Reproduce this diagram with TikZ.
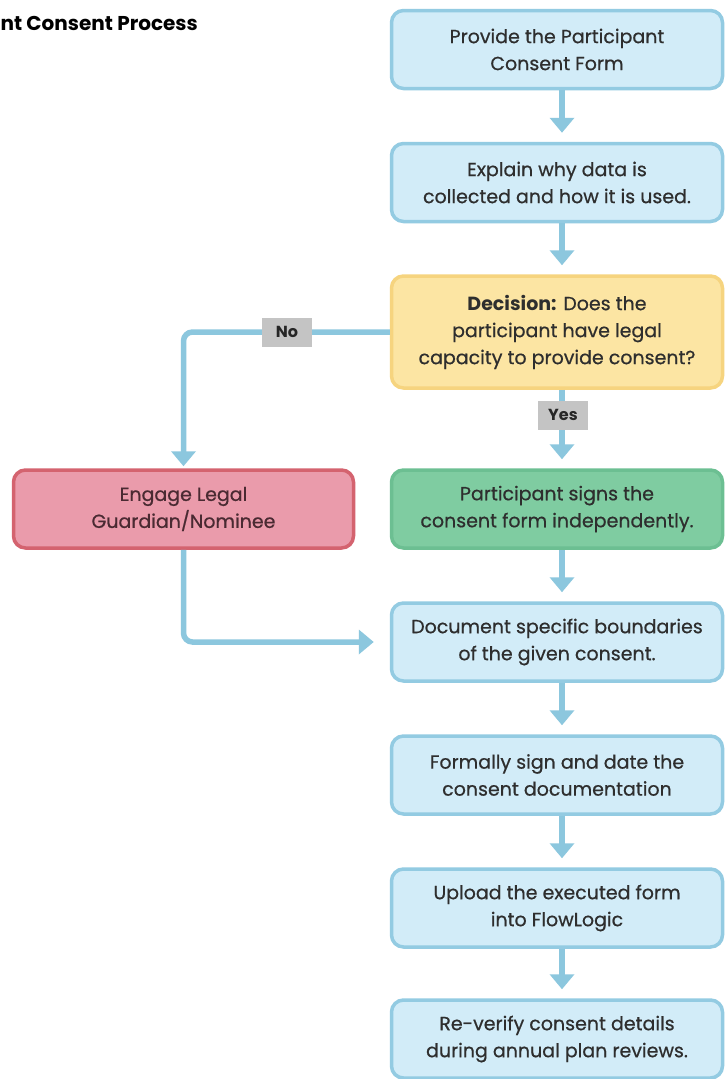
\documentclass[tikz,border=0pt]{standalone}
\usepackage{fontspec}
\setmainfont{Poppins}
\newfontface\medfont{Poppins}[FakeBold=0.6]
\usetikzlibrary{arrows.meta,calc}
\definecolor{bluefill}{HTML}{D2ECF8}
\definecolor{blueline}{HTML}{93CBE2}
\definecolor{arrc}{HTML}{8CC7DE}
\definecolor{yelfill}{HTML}{FCE5A3}
\definecolor{yelline}{HTML}{F6D47F}
\definecolor{grnfill}{HTML}{7FCCA1}
\definecolor{grnline}{HTML}{6CBF92}
\definecolor{pnkfill}{HTML}{EA9BAB}
\definecolor{pnkline}{HTML}{D4636F}
\definecolor{labgray}{HTML}{C4C4C4}
\definecolor{textc}{HTML}{2E2E2E}
\definecolor{pnktext}{HTML}{4A2A32}
\newcommand{\boldword}[1]{{\normalfont\fontsize{19}{27}\selectfont\bfseries #1}}
\begin{document}
\begin{tikzpicture}[x=1pt,y=-1pt,
  box/.style={rounded corners=12pt, line width=3.5pt, minimum width=331pt,
    minimum height=78pt, align=center, inner sep=0pt,
    font=\medfont\fontsize{19}{27}\selectfont, text=textc},
  bluebox/.style={box, draw=blueline, fill=bluefill},
  decbox/.style={box, draw=yelline, fill=yelfill, minimum height=112pt},
  grnbox/.style={box, draw=grnline, fill=grnfill},
  pnkbox/.style={box, draw=pnkline, fill=pnkfill, minimum width=340pt, text=pnktext},
  arr/.style={draw=arrc, line width=5.5pt, -{Triangle[width=24pt,length=15pt]}},
  conn/.style={arr, rounded corners=9pt},
  lab/.style={fill=labgray, minimum width=50pt, minimum height=29pt, inner sep=0pt,
    font=\fontsize{16}{18}\selectfont\bfseries, text=black!85},
  title/.style={font=\fontsize{20}{22}\selectfont\bfseries, text=black, anchor=east, inner sep=0pt}
]
\useasboundingbox (0,0) rectangle (727,1079);
\clip (0,0) rectangle (727,1079);
\fill[white] (0,0) rectangle (727,1079);

\node[title] (ttl) at (198,25) {Participant Consent Process};

\coordinate (ax) at (562,0);

\node[bluebox] (b1) at (557,49.5) {Provide the Participant\\Consent Form};
\node[bluebox] (b2) at (557,182.5) {Explain why data is\\collected and how it is used.};
\node[decbox] (dec) at (557,332) {\boldword{Decision:} Does the\\participant have legal\\capacity to provide consent?};
\node[grnbox] (grn) at (557,509) {Participant signs the\\consent form independently.};
\node[pnkbox] (eng) at (183.5,509) {Engage Legal\\Guardian/Nominee};
\node[bluebox] (doc) at (557,642) {Document specific boundaries\\of the given consent.};
\node[bluebox] (frm) at (557,775) {Formally sign and date the\\consent documentation};
\node[bluebox] (upl) at (557,908) {Upload the executed form\\into FlowLogic};
\node[bluebox] (rev) at (557,1039) {Re-verify consent details\\during annual plan reviews.};

\draw[arr, shorten >=9pt] (b1.south -| ax) -- (b2.north -| ax);
\draw[arr, shorten >=9pt] (b2.south -| ax) -- (dec.north -| ax);
\draw[arr, shorten >=9pt] (dec.south -| ax) -- (grn.north -| ax);
\draw[arr, shorten >=9pt] (grn.south -| ax) -- (doc.north -| ax);
\draw[arr, shorten >=9pt] (doc.south -| ax) -- (frm.north -| ax);
\draw[arr, shorten >=9pt] (frm.south -| ax) -- (upl.north -| ax);
\draw[arr, shorten >=9pt] (upl.south -| ax) -- (rev.north -| ax);

\draw[conn, shorten >=2pt] (dec.west) -| (eng.north);
\draw[conn, shorten >=16pt] (eng.south) |- (doc.west);

\node[lab] (no) at (287,332) {No};
\node[lab] (yes) at (563,415) {Yes};
\end{tikzpicture}
\end{document}
